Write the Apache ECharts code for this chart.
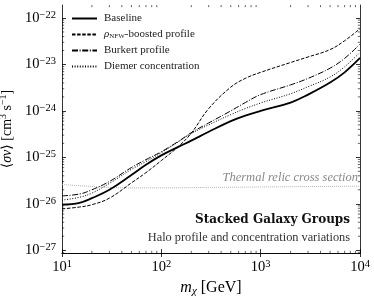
<!DOCTYPE html>
<html><head><meta charset="utf-8">
<script src="https://cdn.jsdelivr.net/npm/echarts@6/dist/echarts.min.js"></script>
<style>html,body{margin:0;padding:0;background:#fff}#c{width:374px;height:298px}</style>
</head><body><div id="c"></div>
<script>
// ---- data ----
const masses = [10,15,20,30,50,70,100,150,200,300,500,700,1000,2000,3000,5000,7000,10000];
const baseline = [9.55e-27,1.05e-26,1.32e-26,2.0e-26,4.17e-26,6.92e-26,1.10e-25,1.70e-25,2.29e-25,3.55e-25,6.03e-25,7.94e-25,1.0e-24,1.51e-24,2.24e-24,4.07e-24,6.76e-24,1.38e-23];
const nfwBoosted = [7.76e-27,8.51e-27,9.55e-27,1.32e-26,2.82e-26,4.68e-26,8.51e-26,1.74e-25,3.31e-25,1.12e-24,3.24e-24,5.01e-24,6.76e-24,1.10e-23,1.45e-23,2.09e-23,3.24e-23,5.89e-23];
const burkert = [1.48e-26,1.62e-26,2.0e-26,3.02e-26,6.03e-26,8.91e-26,1.32e-25,2.24e-25,3.39e-25,5.50e-25,1.0e-24,1.51e-24,2.24e-24,3.63e-24,5.01e-24,8.32e-24,1.35e-23,2.75e-23];
const diemer = [1.20e-26,1.38e-26,1.70e-26,2.75e-26,5.50e-26,8.13e-26,1.26e-25,2.19e-25,3.24e-25,5.01e-25,8.32e-25,1.12e-24,1.48e-24,2.34e-24,3.31e-24,5.37e-24,8.91e-24,1.82e-23];
const relicMasses = [10,15,20,30,50,100,300,1000,3000,10000];
const relic = [2.6e-26,2.45e-26,2.35e-26,2.25e-26,2.2e-26,2.2e-26,2.25e-26,2.3e-26,2.35e-26,2.4e-26];
const seriesNames = ['Baseline','ρNFW-boosted profile','Burkert profile','Diemer concentration'];
const xRange = [10, 10000];
const yRange = [Math.pow(10,-27.06), Math.pow(10,-21.72)];
const relicLabel = 'Thermal relic cross section';
const titleText = 'Stacked Galaxy Groups';
const subtitleText = 'Halo profile and concentration variations';

// ---- chart ----
const SERIF = "'Liberation Serif', 'DejaVu Serif', serif";
const chart = echarts.init(document.getElementById('c'), null, {renderer:'canvas'});
const pairs = (xs, ys) => xs.map((x,i)=>[x, ys[i]]);

function minorValues(lo, hi) {
  const out = [];
  for (let d = Math.floor(Math.log10(lo)) - 1; d <= Math.ceil(Math.log10(hi)); d++) {
    for (let k = 2; k <= 9; k++) { const v = k * Math.pow(10, d); if (v > lo && v < hi) out.push(v); }
  }
  return out;
}
function minorSeries(values, isX) {
  return {
    type:'custom', silent:true, z:5, clip:false,
    data: values.map(v => isX ? [v, 1e-24] : [100, v]),
    renderItem(params, api) {
      const cs = params.coordSys;
      const p = api.coord([api.value(0), api.value(1)]);
      const L = 2.2, st = {stroke:'#000', lineWidth:0.6};
      if (isX) {
        const b = cs.y + cs.height;
        return {type:'group', children:[
          {type:'line', shape:{x1:p[0], y1:b, x2:p[0], y2:b-L}, style:st},
          {type:'line', shape:{x1:p[0], y1:cs.y, x2:p[0], y2:cs.y+L}, style:st}]};
      }
      const r = cs.x + cs.width;
      return {type:'group', children:[
        {type:'line', shape:{x1:cs.x, y1:p[1], x2:cs.x+L, y2:p[1]}, style:st},
        {type:'line', shape:{x1:r, y1:p[1], x2:r-L, y2:p[1]}, style:st}]};
    }
  };
}
const powLabel = v => {
  const e = Math.round(Math.log10(v));
  return '{b|10}{s|' + (e < 0 ? '\u2212' : '') + Math.abs(e) + '}';
};
const tickRich = {
  b:{fontFamily:SERIF, fontSize:14.5, color:'#000', lineHeight:17},
  s:{fontFamily:SERIF, fontSize:10.5, color:'#000', lineHeight:11, verticalAlign:'top'}
};
const axisLine = {show:true, lineStyle:{color:'#000', width:0.8}};
const axisTick = {show:true, inside:true, length:4, lineStyle:{color:'#000', width:0.8}};

chart.setOption({
  animation:false,
  backgroundColor:'#fff',
  grid:{left:62, right:14, top:5, bottom:45, containLabel:false, outerBoundsMode:'none'},
  legend:{
    data:seriesNames, orient:'vertical', left:66, top:8,
    itemWidth:25, itemHeight:8, itemGap:5,
    itemStyle:{opacity:0},
    formatter: n => n === seriesNames[1] ? '{i|ρ}{sub|NFW}-boosted profile' : n,
    textStyle:{fontFamily:SERIF, fontSize:11, color:'#222', padding:[0,0,0,2],
      rich:{ i:{fontFamily:SERIF, fontStyle:'italic', fontSize:11, color:'#222'},
             sub:{fontFamily:SERIF, fontSize:7, color:'#222', verticalAlign:'bottom', lineHeight:11} }}
  },
  xAxis:[
    {type:'log', logBase:10, min:xRange[0], max:xRange[1], position:'bottom',
     axisLine, axisTick, splitLine:{show:false},
     axisLabel:{formatter:powLabel, rich:tickRich, margin:6},
     name:'{i|m}{sub|χ}{b| [GeV]}', nameLocation:'middle', nameGap:21,
     nameTextStyle:{rich:{
       i:{fontFamily:SERIF, fontStyle:'italic', fontSize:16, color:'#000'},
       sub:{fontFamily:SERIF, fontStyle:'italic', fontSize:11, color:'#000', verticalAlign:'bottom', lineHeight:17},
       b:{fontFamily:SERIF, fontSize:16, color:'#000'}}}},
    {type:'log', logBase:10, min:xRange[0], max:xRange[1], position:'top',
     axisLine, axisTick, splitLine:{show:false}, axisLabel:{show:false}}
  ],
  yAxis:[
    {type:'log', logBase:10, min:yRange[0], max:yRange[1], position:'left',
     axisLine, axisTick, splitLine:{show:false},
     axisLabel:{formatter:powLabel, rich:tickRich, margin:6, showMinLabel:false, showMaxLabel:false},
     name:'{b|⟨}{i|σv}{b|⟩ [cm}{s|3}{b| s}{s|\u22121}{b|]}', nameLocation:'middle', nameGap:43, nameRotate:90,
     nameTextStyle:{rich:{
       b:{fontFamily:SERIF, fontSize:14, color:'#000', lineHeight:17},
       i:{fontFamily:SERIF, fontStyle:'italic', fontSize:14, color:'#000', lineHeight:17},
       s:{fontFamily:SERIF, fontSize:10, color:'#000', verticalAlign:'top', lineHeight:11}}}},
    {type:'log', logBase:10, min:yRange[0], max:yRange[1], position:'right',
     axisLine, axisTick, splitLine:{show:false}, axisLabel:{show:false}}
  ],
  series:[
    {name:'relic', type:'line', data:pairs(relicMasses, relic), showSymbol:false, symbol:'none', smooth:true,
     lineStyle:{color:'#aaaaaa', width:0.9, type:[1,1]}, z:1, silent:true},
    {name:seriesNames[0], type:'line', data:pairs(masses, baseline), symbol:'none', smooth:0.4,
     lineStyle:{color:'#000', width:1.8}, itemStyle:{color:'#000'}, z:4},
    {name:seriesNames[1], type:'line', data:pairs(masses, nfwBoosted), symbol:'none', smooth:0.4,
     lineStyle:{color:'#000', width:1, type:[3.5,1.6]}, itemStyle:{color:'#000'}, z:3},
    {name:seriesNames[2], type:'line', data:pairs(masses, burkert), symbol:'none', smooth:0.4,
     lineStyle:{color:'#000', width:1, type:[6,1.6,1,1.6]}, itemStyle:{color:'#000'}, z:3},
    {name:seriesNames[3], type:'line', data:pairs(masses, diemer), symbol:'none', smooth:0.4,
     lineStyle:{color:'#000', width:1, type:[1,1.6]}, itemStyle:{color:'#000'}, z:3},
    minorSeries(minorValues(xRange[0], xRange[1]), true),
    minorSeries(minorValues(yRange[0], yRange[1]), false)
  ],
  graphic:[
    {type:'text', right:16, top:171, z:10, style:{text:relicLabel, font:"italic 12.5px 'Liberation Serif', serif", fill:'#888'}},
    {type:'text', right:24, top:214, z:10, style:{text:titleText, font:"bold 12px 'DejaVu Serif', serif", fill:'#111'}},
    {type:'text', right:24, top:232, z:10, style:{text:subtitleText, font:"12.3px 'Liberation Serif', serif", fill:'#333'}}
  ]
});
</script></body></html>
